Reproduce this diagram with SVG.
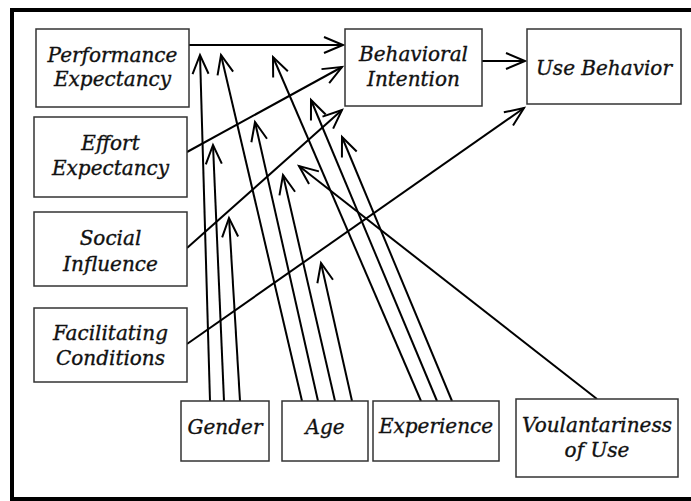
<svg xmlns="http://www.w3.org/2000/svg" width="691" height="501" viewBox="0 0 691 501">
<style>
.box{fill:#fff;stroke:#333;stroke-width:1.5}
.t{font-family:"DejaVu Serif",serif;font-style:italic;font-size:20px;fill:#111;stroke:#111;stroke-width:0.35;text-anchor:middle}
.c{fill:none;stroke:#000;stroke-width:2;marker-end:url(#ah)}
</style>
<defs>
<marker id="ah" markerUnits="userSpaceOnUse" markerWidth="26" markerHeight="22" viewBox="-23 -11 26 22" refX="0" refY="0" orient="auto" overflow="visible">
<path d="M-19,-8 L0,0 L-19,8" fill="none" stroke="#000" stroke-width="2"/>
</marker>
</defs>
<rect x="0" y="0" width="691" height="501" fill="#fff"/>
<rect x="12" y="10" width="700" height="489" fill="none" stroke="#000" stroke-width="4"/>
<g id="connectors">
<line class="c" x1="189" y1="45" x2="343" y2="45"/>
<line class="c" x1="482" y1="61" x2="525" y2="61"/>
<line class="c" x1="187" y1="152" x2="342" y2="67"/>
<line class="c" x1="187" y1="248" x2="342" y2="110"/>
<line class="c" x1="187" y1="344" x2="524" y2="108"/>
<line class="c" x1="210" y1="401" x2="200" y2="55"/>
<line class="c" x1="224" y1="401" x2="213" y2="145"/>
<line class="c" x1="240" y1="401" x2="229" y2="218"/>
<line class="c" x1="302" y1="401" x2="221" y2="55"/>
<line class="c" x1="318" y1="401" x2="255" y2="122"/>
<line class="c" x1="335" y1="401" x2="283" y2="175"/>
<line class="c" x1="352" y1="401" x2="321" y2="263"/>
<line class="c" x1="421" y1="401" x2="273" y2="57"/>
<line class="c" x1="437" y1="401" x2="311" y2="100"/>
<line class="c" x1="452" y1="401" x2="342" y2="137"/>
<line class="c" x1="597" y1="399" x2="299" y2="166"/>
</g>
<g id="pe"><rect class="box" x="36" y="29" width="153" height="78"/><text class="t" x="112.5" y="62">Performance<tspan x="112.5" dy="24">Expectancy</tspan></text></g>
<g id="ee"><rect class="box" x="34" y="117" width="153" height="80"/><text class="t" x="110.5" y="150">Effort<tspan x="110.5" dy="25">Expectancy</tspan></text></g>
<g id="si"><rect class="box" x="34" y="212" width="153" height="74"/><text class="t" x="110.5" y="245">Social<tspan x="110.5" dy="26">Influence</tspan></text></g>
<g id="fc"><rect class="box" x="34" y="308" width="153" height="74"/><text class="t" x="110.5" y="340">Facilitating<tspan x="110.5" dy="25">Conditions</tspan></text></g>
<g id="bi"><rect class="box" x="345" y="29" width="137" height="77"/><text class="t" x="413.5" y="61">Behavioral<tspan x="413.5" dy="25">Intention</tspan></text></g>
<g id="ub"><rect class="box" x="527" y="29" width="154" height="75"/><text class="t" x="604" y="75">Use Behavior</text></g>
<g id="gender"><rect class="box" x="181" y="401" width="88" height="60"/><text class="t" x="225" y="434">Gender</text></g>
<g id="age"><rect class="box" x="282" y="401" width="86" height="60"/><text class="t" x="325" y="434">Age</text></g>
<g id="experience"><rect class="box" x="373" y="401" width="126" height="60"/><text class="t" x="436" y="433">Experience</text></g>
<g id="voluntariness"><rect class="box" x="516" y="399" width="162" height="78"/><text class="t" x="597" y="432">Voulantariness<tspan x="597" dy="25">of Use</tspan></text></g>
</svg>
